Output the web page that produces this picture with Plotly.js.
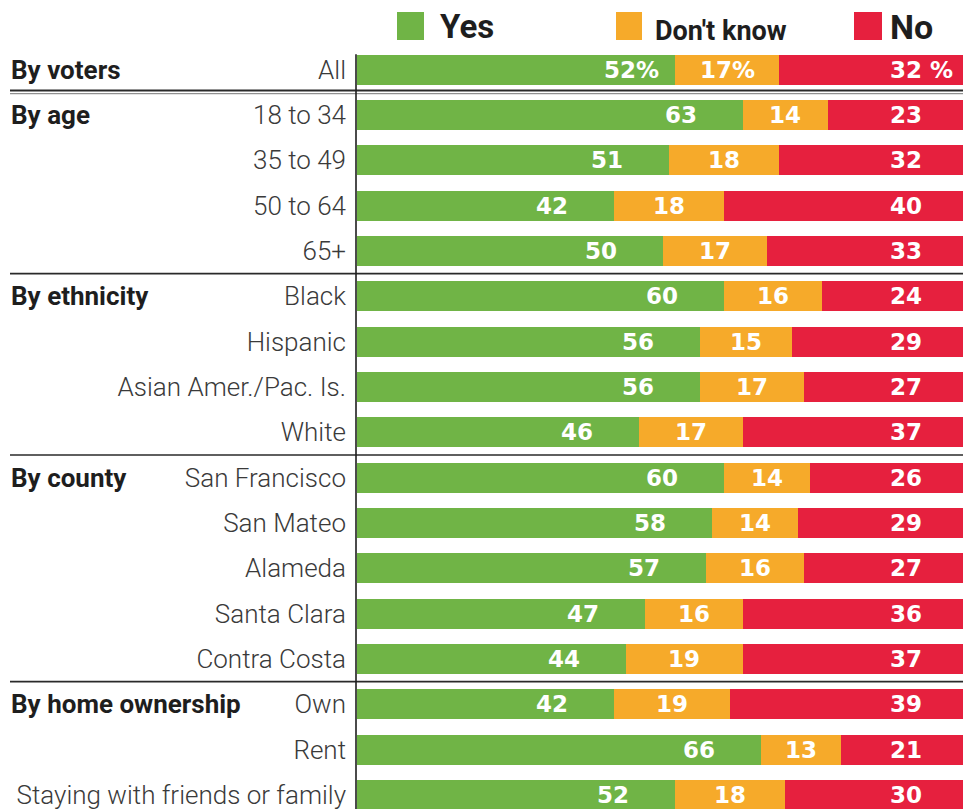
<!DOCTYPE html>
<html>
<head>
<meta charset="utf-8">
<script src="https://cdn.plot.ly/plotly-3.0.1.min.js"></script>
<style>
  html, body { margin: 0; padding: 0; background: #ffffff; }
  #chart { width: 963px; height: 809px; }
</style>
</head>
<body>
<div id="chart"></div>
<script>
// ---- Data ----
const categories = ["All", "18 to 34", "35 to 49", "50 to 64", "65+",
  "Black", "Hispanic", "Asian Amer./Pac. Is.", "White",
  "San Francisco", "San Mateo", "Alameda", "Santa Clara", "Contra Costa",
  "Own", "Rent", "Staying with friends or family"];
const yesValues      = [52, 63, 51, 42, 50, 60, 56, 56, 46, 60, 58, 57, 47, 44, 42, 66, 52];
const dontKnowValues = [17, 14, 18, 18, 17, 16, 15, 17, 17, 14, 14, 16, 16, 19, 19, 13, 18];
const noValues       = [32, 23, 32, 40, 33, 24, 29, 27, 37, 26, 29, 27, 36, 37, 39, 21, 30];
const groupNames  = ["By voters", "By age", "By ethnicity", "By county", "By home ownership"];
const groupStarts = [0, 1, 5, 9, 14];   // index of the first category in each group
const seriesNames = ["Yes", "Don't know", "No"];

// ---- Styles ----
const W = 963, H = 809;
const colYes = "#70b446", colDk = "#f6aa2a", colNo = "#e6203e";
const xMax = 99;
const plotLeft = 357, marginTop = 47;
const yBottom = 16.31;
const valueFont = {family: "DejaVu Sans", size: 23, color: "#ffffff", weight: "bold"};

const traces = [
  {name: seriesNames[0], x: yesValues, marker: {color: colYes}},
  {name: seriesNames[1], x: dontKnowValues, marker: {color: colDk}},
  {name: seriesNames[2], x: noValues, marker: {color: colNo}}
].map(t => Object.assign(t, {
  type: "bar", orientation: "h", y: categories, width: 0.66,
  hoverinfo: "skip", showlegend: false
}));

const annotations = [];
categories.forEach((c, i) => {
  const pct = i === 0;
  annotations.push({x: yesValues[i], y: c, xref: "x", yref: "y",
    text: yesValues[i] + (pct ? "%" : ""), showarrow: false,
    xanchor: "right", xshift: pct ? -14 : -44, font: valueFont});
  annotations.push({x: yesValues[i] + dontKnowValues[i] / 2, y: c, xref: "x", yref: "y",
    text: dontKnowValues[i] + (pct ? "%" : ""), showarrow: false,
    xanchor: "center", font: valueFont});
  const total = yesValues[i] + dontKnowValues[i] + noValues[i];
  annotations.push({x: Math.min(total, xMax), y: c, xref: "x", yref: "y",
    text: noValues[i] + (pct ? " %" : ""), showarrow: false,
    xanchor: "right", xshift: pct ? -8 : -39, font: valueFont});
});

// Group labels
groupNames.forEach((g, k) => {
  annotations.push({x: 9 / W, xref: "paper", y: categories[groupStarts[k]], yref: "y",
    text: g, showarrow: false, xanchor: "left",
    font: {family: "Roboto", size: 26, color: "#1e1e1e", weight: "bold"}});
});

// Legend (top)
const plotH = H - marginTop;
const py = p => (H - p) / plotH;   // pixel y -> paper y
const legendItems = [
  {sq: [397, 424], tx: 438, ty: 27, font: {family: "Roboto", size: 33, color: "#1e1e1e", weight: "bold"}, col: colYes},
  {sq: [616, 642], tx: 653, ty: 31, font: {family: "Roboto", size: 27, color: "#1e1e1e", weight: "bold"}, col: colDk},
  {sq: [854, 882], tx: 888, ty: 27, font: {family: "Roboto", size: 34, color: "#1e1e1e", weight: "bold"}, col: colNo}
];
const shapes = [];
legendItems.forEach((it, k) => {
  shapes.push({type: "rect", xref: "paper", yref: "paper",
    x0: it.sq[0] / W, x1: it.sq[1] / W, y0: py(40), y1: py(12),
    fillcolor: it.col, line: {width: 0}});
  annotations.push({x: it.tx / W, xref: "paper", y: py(it.ty), yref: "paper",
    text: seriesNames[k], showarrow: false, xanchor: "left", yanchor: "middle",
    font: it.font});
});

// Separators
shapes.push({type: "line", xref: "paper", yref: "y", x0: 10 / W, x1: 1, y0: 0.46, y1: 0.46,
  line: {color: "#2a2a2a", width: 2}});
shapes.push({type: "line", xref: "paper", yref: "y", x0: 10 / W, x1: 1, y0: 0.53, y1: 0.53,
  line: {color: "#777777", width: 1}});
groupStarts.slice(2).forEach(s => {
  shapes.push({type: "line", xref: "paper", yref: "y", x0: 10 / W, x1: 1, y0: s - 0.5, y1: s - 0.5,
    line: {color: "#2a2a2a", width: 1.6}});
});
// Vertical axis line
shapes.push({type: "line", xref: "paper", yref: "y", x0: (plotLeft - 1) / W, x1: (plotLeft - 1) / W,
  y0: -0.34, y1: yBottom, line: {color: "#1e1e1e", width: 1.6}});

const layout = {
  width: W, height: H,
  margin: {l: 0, r: 0, t: marginTop, b: 0, pad: 0},
  paper_bgcolor: "#ffffff", plot_bgcolor: "#ffffff",
  barmode: "stack", bargap: 0,
  xaxis: {domain: [plotLeft / W, 1], range: [0, xMax], visible: false, fixedrange: true},
  yaxis: {type: "category", categoryorder: "array", categoryarray: categories,
    range: [yBottom, -0.5], showgrid: false, zeroline: false, showline: false,
    ticks: "", ticklabelstandoff: 10,
    tickfont: {family: "Roboto", size: 26, color: "#3a3a3a", weight: 300}, fixedrange: true},
  shapes: shapes,
  annotations: annotations,
  showlegend: false
};

Plotly.newPlot("chart", traces, layout, {displayModeBar: false, staticPlot: true});
</script>
</body>
</html>
